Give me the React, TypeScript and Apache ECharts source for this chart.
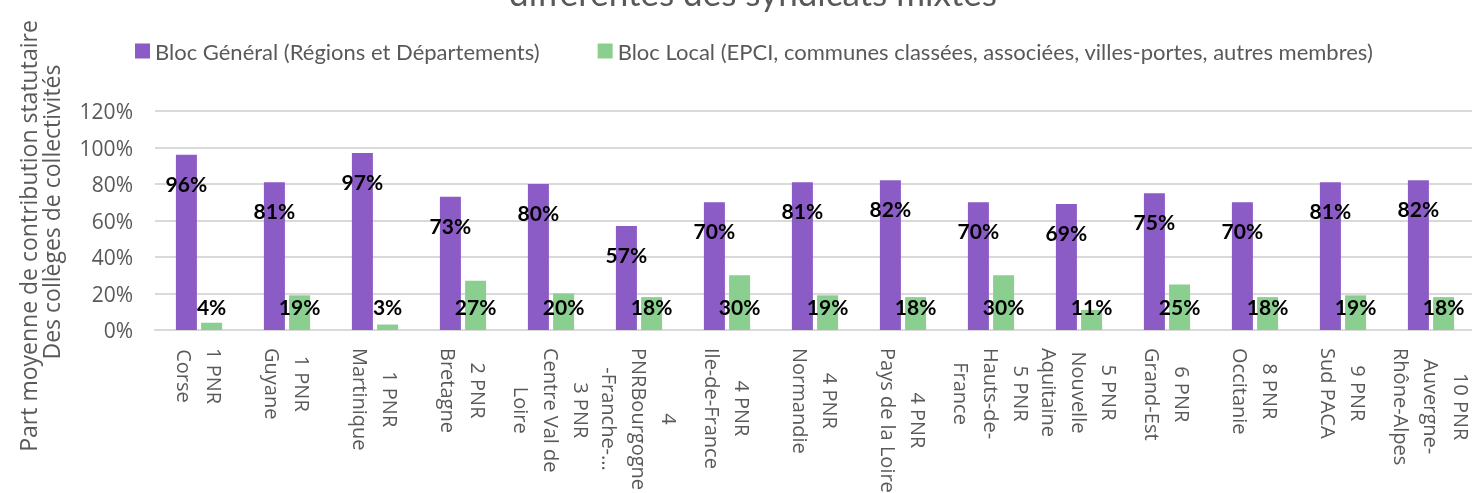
import React, { useEffect, useRef } from "react";
import * as echarts from "echarts";

const categories: string[] = [
  "1 PNR\nCorse",
  "1 PNR\nGuyane",
  "1 PNR\nMartinique",
  "2 PNR\nBretagne",
  "3 PNR\nCentre Val de\nLoire",
  "4\nPNRBourgogne\n-Franche-...",
  "4 PNR\nIle-de-France",
  "4 PNR\nNormandie",
  "4 PNR\nPays de la Loire",
  "5 PNR\nHauts-de-\nFrance",
  "5 PNR\nNouvelle\nAquitaine",
  "6 PNR\nGrand-Est",
  "8 PNR\nOccitanie",
  "9 PNR\nSud PACA",
  "10 PNR\nAuvergne-\nRhône-Alpes",
];

const blocGeneral: number[] = [96, 81, 97, 73, 80, 57, 70, 81, 82, 70, 69, 75, 70, 81, 82];
const blocLocal: number[] = [4, 19, 3, 27, 20, 18, 30, 19, 18, 30, 11, 25, 18, 19, 18];

const seriesNames: string[] = [
  "Bloc Général (Régions et Départements)",
  "Bloc Local (EPCI, communes classées, associées, villes-portes, autres membres)",
];

const yMin = 0;
const yMax = 120;
const yStep = 20;

const titleText = "différentes des syndicats mixtes";
const yTitleLines: string[] = [
  "Part moyenne de contribution statutaire",
  "Des collèges de collectivités",
];

const PURPLE = "#8B5BC6";
const GREEN = "#8ACF8F";
const GRAY_TEXT = "#595959";
const GRID_GRAY = "#D9D9D9";

export default function App() {
  const ref = useRef<HTMLDivElement>(null);

  useEffect(() => {
    if (!ref.current) return;
    const chart = echarts.init(ref.current, undefined, { renderer: "svg" });

    const labelCommon = {
      show: true,
      formatter: "{c}%",
      fontFamily: "Lato",
      fontWeight: "bold" as const,
      fontSize: 21,
      color: "#000000",
      textBorderWidth: 0,
    };

    chart.setOption({
      animation: false,
      textStyle: { fontFamily: "Lato" },
      legend: {
        left: 130,
        top: 35,
        icon: "rect",
        itemWidth: 15,
        itemHeight: 15,
        itemGap: 58,
        textStyle: { fontFamily: "Lato", fontSize: 22, color: GRAY_TEXT },
        data: seriesNames,
      },
      grid: {
        left: 155,
        top: 111,
        width: 1320,
        height: 219,
        containLabel: false,
        outerBoundsMode: "none",
      },
      xAxis: {
        type: "category",
        data: categories,
        axisTick: { show: false },
        axisLine: { lineStyle: { color: GRID_GRAY, width: 2 } },
        axisLabel: {
          interval: 0,
          rotate: -90,
          margin: 18,
          formatter: (v: string) =>
            v
              .split("\n")
              .map((l) => `{c|${l}}`)
              .join("\n"),
          rich: {
            c: {
              align: "center",
              fontFamily: "Open Sans",
              fontSize: 20,
              lineHeight: 30,
              color: GRAY_TEXT,
            },
          },
        },
      },
      yAxis: {
        type: "value",
        min: yMin,
        max: yMax,
        interval: yStep,
        axisLine: { show: false },
        axisTick: { show: false },
        axisLabel: {
          formatter: "{value}%",
          fontFamily: "Open Sans",
          fontSize: 21,
          color: GRAY_TEXT,
          margin: 22,
        },
        splitLine: { lineStyle: { color: GRID_GRAY, width: 2 } },
      },
      series: [
        {
          name: seriesNames[0],
          type: "bar",
          data: blocGeneral,
          barWidth: 21,
          barGap: "20%",
          itemStyle: { color: PURPLE },
          label: { ...labelCommon, position: "insideTop", distance: 18 },
        },
        {
          name: seriesNames[1],
          type: "bar",
          data: blocLocal,
          barWidth: 21,
          barGap: "20%",
          itemStyle: { color: GREEN },
          label: { ...labelCommon, position: "insideBottom", distance: 13 },
        },
      ],
      graphic: [
        {
          type: "text",
          x: 753,
          y: -8,
          style: {
            text: titleText,
            fontFamily: "Lato",
            fontSize: 35,
            fill: GRAY_TEXT,
            align: "center",
            verticalAlign: "middle",
          },
        },
        {
          type: "text",
          x: 28,
          y: 236,
          rotation: Math.PI / 2,
          style: {
            text: yTitleLines[0],
            fontFamily: "Open Sans",
            fontSize: 23,
            fill: GRAY_TEXT,
            align: "center",
            verticalAlign: "middle",
          },
        },
        {
          type: "text",
          x: 51,
          y: 212,
          rotation: Math.PI / 2,
          style: {
            text: yTitleLines[1],
            fontFamily: "Open Sans",
            fontSize: 23,
            fill: GRAY_TEXT,
            align: "center",
            verticalAlign: "middle",
          },
        },
      ],
    });

    return () => {
      chart.dispose();
    };
  }, []);

  return (
    <div
      ref={ref}
      style={{ position: "fixed", left: 0, top: 0, width: 1472, height: 493 }}
    />
  );
}
